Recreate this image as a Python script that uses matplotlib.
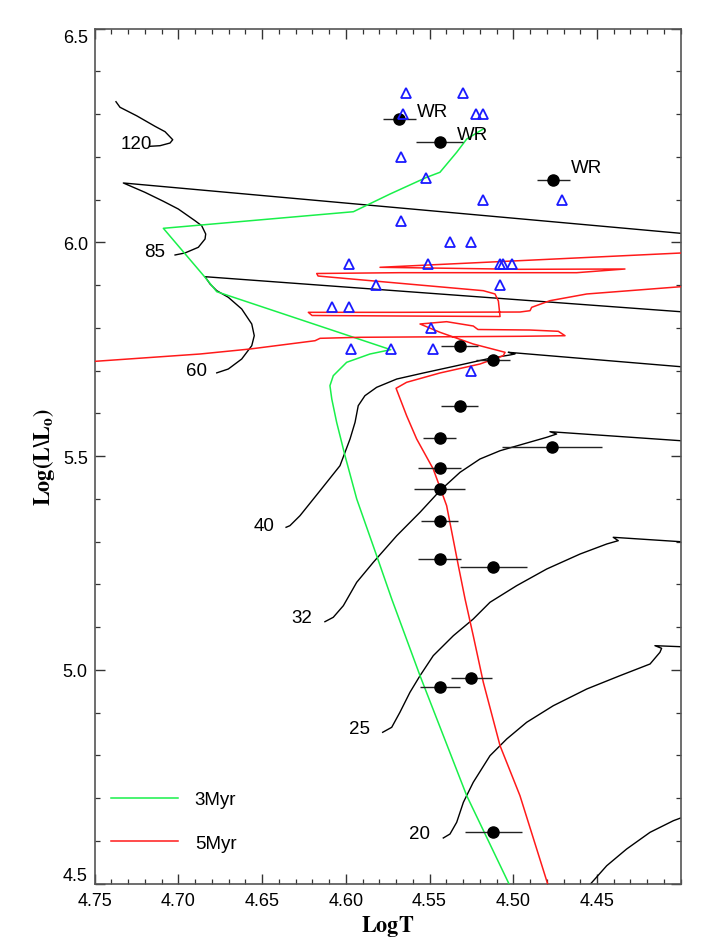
import numpy as np
import matplotlib
matplotlib.use("Agg")
import matplotlib.pyplot as plt
from matplotlib.ticker import FixedLocator, MultipleLocator

plt.rcParams['font.family'] = ['Liberation Sans', 'DejaVu Sans']
plt.rcParams['mathtext.fontset'] = 'stix'

# ---- evolutionary tracks (black), log T / log L ----
t120_T = [4.7373, 4.7349, 4.7249, 4.7140, 4.7080, 4.7034, 4.7050, 4.7110, 4.7170]
t120_L = [6.329, 6.316, 6.296, 6.2715, 6.2589, 6.2401, 6.2324, 6.2261, 6.2247]

t85_T = [4.7020, 4.6961, 4.6881, 4.6841, 4.6837, 4.6861, 4.6901, 4.7001, 4.7090, 4.7200, 4.7329, 4.40]
t85_L = [5.9705, 5.9752, 5.9885, 6.0079, 6.0196, 6.0390, 6.0507, 6.0781, 6.0961, 6.1171, 6.1389, 6.0212]

t60_T = [4.6771, 4.6702, 4.6622, 4.6562, 4.6547, 4.6562, 4.6622, 4.6702, 4.6771, 4.6811, 4.6841, 4.40]
t60_L = [5.6948, 5.7038, 5.7272, 5.7583, 5.7817, 5.8091, 5.8442, 5.8715, 5.8870, 5.9026, 5.9197, 5.8378]

t40_T = [4.6357, 4.6334, 4.6274, 4.6154, 4.6035, 4.5975, 4.5945, 4.5926, 4.5886, 4.5816, 4.5696,
         4.5537, 4.5338, 4.5139, 4.5020, 4.4990, 4.5030, 4.40]
t40_L = [5.3336, 5.3374, 5.3607, 5.4192, 5.4777, 5.5401, 5.5792, 5.6180, 5.6414, 5.6610, 5.6804,
         5.6945, 5.7115, 5.7289, 5.7366, 5.7390, 5.7429, 5.7092]

t32_T = [4.6125, 4.6075, 4.6015, 4.5935, 4.5836, 4.5696, 4.5557, 4.5438, 4.5318, 4.5199, 4.5079,
         4.4940, 4.4800, 4.4741, 4.4781, 4.40]
t32_L = [5.1128, 5.1231, 5.1502, 5.2050, 5.2517, 5.3139, 5.3687, 5.4192, 5.4622, 5.4933, 5.5127,
         5.5284, 5.5441, 5.5518, 5.5572, 5.5361]

t25_T = [4.5780, 4.5726, 4.5677, 4.5617, 4.5557, 4.5478, 4.5358, 4.5239, 4.5139, 4.4980, 4.4800,
         4.4601, 4.4442, 4.4373, 4.4403, 4.40]
t25_L = [4.8541, 4.8658, 4.9009, 4.9477, 4.9865, 5.0333, 5.0800, 5.1191, 5.1582, 5.1970, 5.2361,
         5.2711, 5.2945, 5.3023, 5.3102, 5.2999]

t20_T = [4.5418, 4.5378, 4.5338, 4.5298, 4.5239, 4.5139, 4.5039, 4.4920, 4.4761, 4.4561, 4.4363,
         4.4183, 4.4124, 4.4114, 4.4154, 4.40]
t20_L = [4.6069, 4.6162, 4.6436, 4.6904, 4.7372, 4.7994, 4.8385, 4.8775, 4.9163, 4.9554, 4.9865,
         5.0139, 5.0412, 5.0506, 5.0567, 5.0543]

t15_T = [4.4560, 4.4442, 4.4323, 4.4183, 4.4044, 4.40]
t15_L = [4.4900, 4.5420, 4.5811, 4.6202, 4.6473, 4.6537]

# ---- isochrones ----
iso3_T = [4.5179, 4.5278, 4.5338, 4.5438, 4.5517, 4.5736, 4.5955, 4.7090, 4.6841, 4.6771, 4.5732,
          4.5856, 4.5995, 4.6075, 4.6095, 4.6084, 4.6055, 4.6005, 4.5935, 4.5816, 4.5726, 4.5557,
          4.5278, 4.5020]
iso3_L = [6.2652, 6.2418, 6.2107, 6.1639, 6.1522, 6.1131, 6.0717, 6.0329, 5.9183, 5.8846, 5.7490,
          5.7389, 5.7195, 5.6882, 5.6648, 5.6337, 5.5792, 5.5011, 5.3998, 5.2672, 5.1659, 4.9865,
          4.7058, 4.4950]

iso5a_T = [4.4791, 4.4960, 4.5079, 4.5179, 4.5239, 4.5288, 4.5328, 4.5398, 4.5427, 4.5478, 4.5577,
           4.5637, 4.5700, 4.5637, 4.5438, 4.5199, 4.5060, 4.5049, 4.5239, 4.5438, 4.5557, 4.5398,
           4.5239, 4.5211, 4.4900, 4.4731, 4.4691, 4.4960, 4.5915, 4.6154, 4.6184, 4.6572, 4.6871,
           4.7600]
iso5a_L = [4.4950, 4.7058, 4.8228, 4.9711, 5.0800, 5.1659, 5.2438, 5.3841, 5.4154, 5.4699, 5.5401,
           5.5946, 5.6587, 5.6727, 5.6945, 5.7155, 5.7349, 5.7429, 5.7623, 5.7897, 5.8091, 5.8145,
           5.8044, 5.7962, 5.7950, 5.7920, 5.7817, 5.7803, 5.7780, 5.7756, 5.7700, 5.7506, 5.7389,
           5.7190]

iso5b_T = [4.40, 4.4561, 4.4781, 4.4890, 4.4900, 4.4960, 4.5677, 4.6224, 4.6202, 4.5677, 4.5079,
           4.5089, 4.5109, 4.5179, 4.6166, 4.6174, 4.5677, 4.4621, 4.4333, 4.4960, 4.5796, 4.40]
iso5b_L = [5.8963, 5.8793, 5.8636, 5.8481, 5.8402, 5.8371, 5.8364, 5.8364, 5.8290, 5.8278, 5.8266,
           5.8629, 5.8793, 5.8870, 5.9213, 5.9272, 5.9291, 5.9291, 5.9377, 5.9370, 5.9417, 5.9751]

# ---- stars ----
tri_T = [4.564, 4.530, 4.566, 4.522, 4.518, 4.567, 4.552, 4.518, 4.471, 4.567, 4.538, 4.525, 4.598,
         4.551, 4.508, 4.506, 4.501, 4.582, 4.508, 4.608, 4.598, 4.549, 4.597, 4.573, 4.548, 4.525]
tri_L = [6.35, 6.35, 6.30, 6.30, 6.30, 6.20, 6.15, 6.10, 6.10, 6.05, 6.00, 6.00, 5.95, 5.95, 5.95,
         5.95, 5.95, 5.90, 5.90, 5.85, 5.85, 5.80, 5.75, 5.75, 5.75, 5.70]

star_T = [4.568, 4.544, 4.476, 4.532, 4.512, 4.532, 4.544, 4.477, 4.544, 4.544, 4.544, 4.544,
          4.512, 4.544, 4.525, 4.512]
star_L = [6.288, 6.234, 6.146, 5.757, 5.724, 5.618, 5.543, 5.521, 5.472, 5.423, 5.348, 5.260,
          5.241, 4.959, 4.980, 4.621]
star_err = [0.010, 0.014, 0.010, 0.011, 0.010, 0.011, 0.010, 0.030, 0.013, 0.015, 0.011, 0.013,
            0.020, 0.012, 0.012, 0.017]

wr_text = ['WR', 'WR', 'WR']
wr_T = [4.5577, 4.5338, 4.4655]
wr_L = [6.2963, 6.2418, 6.1646]

mass_text = ['120', '85', '60', '40', '32', '25', '20']
mass_T = [4.7345, 4.7204, 4.6955, 4.6553, 4.6323, 4.5979, 4.5621]
mass_L = [6.220, 5.9688, 5.6898, 5.328, 5.1114, 4.8525, 4.6069]

xticks = [4.75, 4.70, 4.65, 4.60, 4.55, 4.50, 4.45]
yticks = [4.5, 5.0, 5.5, 6.0, 6.5]

GREEN = '#19f04a'
RED = '#ff1a1a'
BLUE = '#1a1aff'

fig = plt.figure(figsize=(7.09, 9.45), dpi=100)
ax = fig.add_axes([0.13357, 0.06381, 0.82652, 0.90487])

for tT, tL in [(t120_T, t120_L), (t85_T, t85_L), (t60_T, t60_L), (t40_T, t40_L),
               (t32_T, t32_L), (t25_T, t25_L), (t20_T, t20_L), (t15_T, t15_L)]:
    ax.plot(tT, tL, color='black', lw=1.0, zorder=2)

l3, = ax.plot(iso3_T, iso3_L, color=GREEN, lw=1.1, zorder=3, label='3Myr')
l5, = ax.plot(iso5a_T, iso5a_L, color=RED, lw=1.1, zorder=3, label='5Myr')
ax.plot(iso5b_T, iso5b_L, color=RED, lw=1.1, zorder=3)

ax.errorbar(star_T, star_L, xerr=star_err, fmt='o', color='black', ms=8,
            elinewidth=1.0, ecolor='#222222', capsize=0, zorder=4)
ax.plot(tri_T, tri_L, linestyle='none', marker='^', ms=7.8, mfc='none', mec=BLUE,
        mew=1.3, zorder=5)

for s, x, y in zip(wr_text, wr_T, wr_L):
    ax.text(x, y, s, fontsize=13.5, va='baseline', ha='left', color='black', zorder=6)
for s, x, y in zip(mass_text, mass_T, mass_L):
    ax.text(x, y, s, fontsize=13.5, va='baseline', ha='left', color='black', zorder=6)

ax.set_xlim(4.75, 4.40)
ax.set_ylim(4.5, 6.5)
ax.xaxis.set_major_locator(FixedLocator(xticks))
ax.xaxis.set_minor_locator(MultipleLocator(0.01))
ax.yaxis.set_major_locator(FixedLocator(yticks))
ax.yaxis.set_minor_locator(MultipleLocator(0.1))
ax.set_xticklabels([f'{v:.2f}' for v in xticks])
ax.set_yticklabels([f'{v:.1f}' for v in yticks])
ax.tick_params(which='both', direction='in', top=True, right=True, colors='#333333',
               labelcolor='black', labelsize=13)
ax.tick_params(which='major', length=7.5, width=1.0)
ax.tick_params(which='minor', length=3.8, width=0.9)
ax.tick_params(axis='x', pad=6)
ax.tick_params(axis='y', pad=5)
for sp in ax.spines.values():
    sp.set_color('#555555')
    sp.set_linewidth(1.2)

ylabs = ax.get_yticklabels()
ylabs[0].set_verticalalignment('bottom')
ylabs[-1].set_verticalalignment('top')

ax.set_xlabel(r'$\mathbf{LogT}$', fontsize=16, labelpad=3)
ax.set_ylabel(r'$\mathbf{Log(L\backslash L_o)}$', fontsize=16, labelpad=4)

ax.legend(handles=[l3, l5], loc='center left', bbox_to_anchor=(0.0278, 0.0727),
          frameon=False, fontsize=13.5, handlelength=3.57, handletextpad=0.9,
          labelspacing=1.42, borderpad=0, borderaxespad=0)

fig.savefig('out.png', dpi=100)
